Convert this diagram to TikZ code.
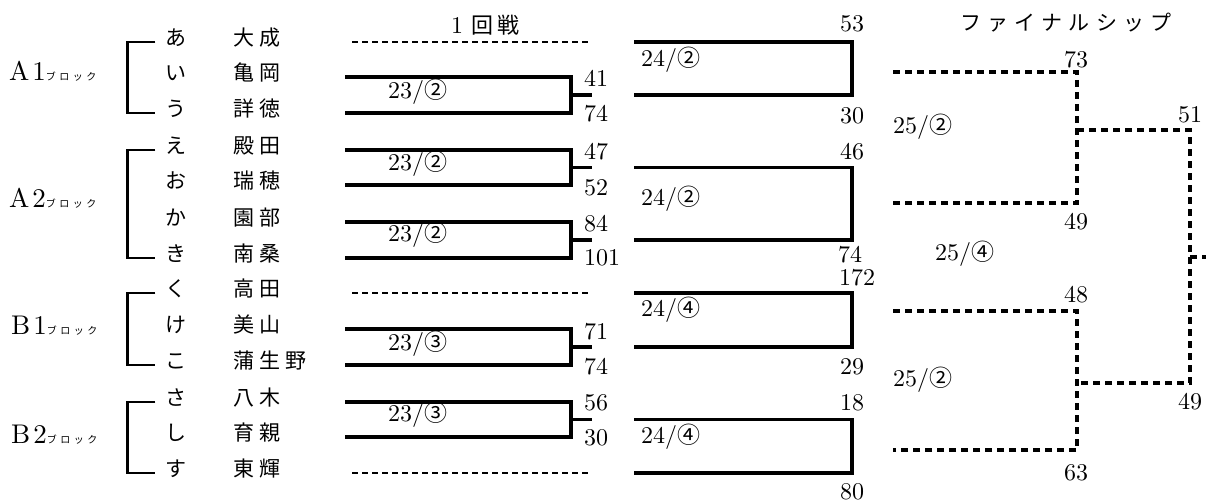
\documentclass[tikz,border=0pt]{standalone}
\usepackage{fontspec}
\usepackage{tikz}
\usetikzlibrary{positioning,calc}
\setmainfont{lmroman10-regular.otf}
\newfontfamily\jp[LetterSpace=25]{Noto Sans CJK JP}
\newfontfamily\jptitle[LetterSpace=30]{Noto Sans CJK JP}
\newfontfamily\jpsmall[LetterSpace=35]{Noto Sans CJK JP}
\newfontfamily\jpplain{Noto Sans CJK JP}
\newcommand\circnum[1]{{\jpplain\fontsize{23}{23}\selectfont #1}}

\begin{document}
\begin{tikzpicture}[x=1pt,y=-1pt,
                    every node/.style={inner sep=0pt},
                    kana/.style={font=\jpplain\fontsize{21}{21}\selectfont, minimum width=20pt,
                                 text height=0.76em, text depth=0pt},
                    team/.style={anchor=west, font=\jp\fontsize{21}{21}\selectfont,
                                 text height=0.76em, text depth=0pt},
                    blocklabel/.style={anchor=west, font=\fontsize{27}{27}\selectfont,
                                       text height=0.69em, text depth=0.05em},
                    score/.style={font=\fontsize{24}{24}\selectfont},
                    gamelabel/.style={anchor=west, font=\fontsize{24}{24}\selectfont,
                                      text height=0.69em, text depth=0.05em},
                    bracket/.style={line width=2.5pt},
                    win/.style={line width=3.5pt},
                    bye/.style={line width=1.3pt, dash pattern=on 6pt off 4pt},
                    semi/.style={line width=4pt, dash pattern=on 7pt off 5pt}]
\useasboundingbox (0,0) rectangle (1211,503);
% columns
\coordinate (c1) at (345,0);
\coordinate (c2) at (571,0);
\coordinate (c3) at (634,0);
\coordinate (c4) at (852,0);
\coordinate (b1) at (352,0);
\coordinate (b2) at (588,0);
% titles
\node[anchor=west, font=\fontsize{24}{24}\selectfont] (first) at (451,25)
  {1\hspace{8pt}{\jpplain\fontsize{22}{22}\selectfont 回\hspace{4pt}戦}};
\node[font=\jptitle\fontsize{21}{21}\selectfont] (final) at (1066,23) {ファイナルシップ};
% blocks
\node[blocklabel] (A1) at (9,77) {A\hspace{3pt}1{\jpsmall\fontsize{10}{10}\selectfont ブロック}};
\node[blocklabel] (A2) at (9,204) {A\hspace{3pt}2{\jpsmall\fontsize{10}{10}\selectfont ブロック}};
\node[blocklabel] (B1) at (11,331) {B\hspace{3pt}1{\jpsmall\fontsize{10}{10}\selectfont ブロック}};
\node[blocklabel] (B2) at (11,440) {B\hspace{3pt}2{\jpsmall\fontsize{10}{10}\selectfont ブロック}};
% teams
\node[kana] (ka1) at (176,42) {あ};
\node[kana] (ka2) at (176,77) {い};
\node[kana] (ka3) at (176,113) {う};
\node[kana] (ka4) at (176,150) {え};
\node[kana] (ka5) at (176,185) {お};
\node[kana] (ka6) at (176,222) {か};
\node[kana] (ka7) at (176,258) {き};
\node[kana] (ka8) at (176,293) {く};
\node[kana] (ka9) at (176,329) {け};
\node[kana] (ka10) at (176,365) {こ};
\node[kana] (ka11) at (176,402) {さ};
\node[kana] (ka12) at (176,437) {し};
\node[kana] (ka13) at (176,473) {す};
\node[team] (nm1) at (233,42) {大成};
\node[team] (nm2) at (233,77) {亀岡};
\node[team] (nm3) at (233,113) {詳徳};
\node[team] (nm4) at (233,150) {殿田};
\node[team] (nm5) at (233,185) {瑞穂};
\node[team] (nm6) at (233,222) {園部};
\node[team] (nm7) at (233,258) {南桑};
\node[team] (nm8) at (233,293) {高田};
\node[team] (nm9) at (233,329) {美山};
\node[team] (nm10) at (233,365) {蒲生野};
\node[team] (nm11) at (233,402) {八木};
\node[team] (nm12) at (233,437) {育親};
\node[team] (nm13) at (233,473) {東輝};
\draw[bracket] ([xshift=-10]ka1.west) -- ++(-28,0) |- ([xshift=-10]ka3.west);
\draw[bracket] ([xshift=-10]ka4.west) -- ++(-28,0) |- ([xshift=-10]ka7.west);
\draw[bracket] ([xshift=-10]ka8.west) -- ++(-28,0) |- ([xshift=-10]ka10.west);
\draw[bracket] ([xshift=-10]ka11.west) -- ++(-28,0) |- ([xshift=-10]ka13.west);
% first round
\draw[bye] (nm1 -| b1) -- (nm1 -| b2);
\draw[bye] (nm8 -| b1) -- (nm8 -| b2);
\draw[bye] (nm13 -| b1) -- (nm13 -| b2);
\draw[win] (nm2 -| c1) -| (nm3 -| c2) -- (nm3 -| c1);
\draw[win] (nm4 -| c1) -| (nm5 -| c2) -- (nm5 -| c1);
\draw[win] (nm6 -| c1) -| (nm7 -| c2) -- (nm7 -| c1);
\draw[win] (nm9 -| c1) -| (nm10 -| c2) -- (nm10 -| c1);
\draw[win] (nm11 -| c1) -| (nm12 -| c2) -- (nm12 -| c1);
\coordinate (w1) at ($(nm2 -| c2)!.5!(nm3 -| c2)$);
\coordinate (w2) at ($(nm4 -| c2)!.5!(nm5 -| c2)$);
\coordinate (w3) at ($(nm6 -| c2)!.5!(nm7 -| c2)$);
\coordinate (w4) at ($(nm9 -| c2)!.5!(nm10 -| c2)$);
\coordinate (w5) at ($(nm11 -| c2)!.5!(nm12 -| c2)$);
\draw[win] (w1) -- ++(21,0);
\draw[win] (w2) -- ++(21,0);
\draw[win] (w3) -- ++(21,0);
\draw[win] (w4) -- ++(21,0);
\draw[win] (w5) -- ++(21,0);
\node[gamelabel] (g1) at (388,95) {23/\circnum{②}};
\node[gamelabel] (g2) at (388,167) {23/\circnum{②}};
\node[gamelabel] (g3) at (388,238) {23/\circnum{②}};
\node[gamelabel] (g4) at (388,347) {23/\circnum{③}};
\node[gamelabel] (g5) at (388,418) {23/\circnum{③}};
\node[score, anchor=west] (s1a) at (584,78) {41};
\node[score, anchor=west] (s1b) at (584,114) {74};
\node[score, anchor=west] (s2a) at (584,152) {47};
\node[score, anchor=west] (s2b) at (584,188) {52};
\node[score, anchor=west] (s3a) at (584,224) {84};
\node[score, anchor=west] (s3b) at (584,258) {101};
\node[score, anchor=west] (s4a) at (584,332) {71};
\node[score, anchor=west] (s4b) at (584,367) {74};
\node[score, anchor=west] (s5a) at (584,403) {56};
\node[score, anchor=west] (s5b) at (584,438) {30};
% second round
\draw[win] (nm1 -| c3) -| (w1 -| c4) -- (w1 -| c3);
\draw[win] (w2 -| c3) -| (w3 -| c4) -- (w3 -| c3);
\draw[win] (nm8 -| c3) -| (w4 -| c4) -- (w4 -| c3);
\draw[win] (w5 -| c3) -| (nm13 -| c4) -- (nm13 -| c3);
\node[gamelabel] (h1) at (641,63) {24/\circnum{②}};
\node[gamelabel] (h2) at (641,202) {24/\circnum{②}};
\node[gamelabel] (h3) at (641,313) {24/\circnum{④}};
\node[gamelabel] (h4) at (641,440) {24/\circnum{④}};
\node[score] (t1a) at (852,24) {53};
\node[score] (t1b) at (852,116) {30};
\node[score] (t2a) at (852,152) {46};
\node[score] (t2b) at (850,255) {74};
\node[score] (t3a) at (857,278) {172};
\node[score] (t3b) at (852,367) {29};
\node[score] (t4a) at (852,403) {18};
\node[score] (t4b) at (852,492) {80};
% final ship
\coordinate (q1) at (893,72);
\coordinate (q2) at (893,203);
\coordinate (q3) at (893,311);
\coordinate (q4) at (893,450);
\coordinate (c6) at (1077,0);
\coordinate (c7) at (1190,0);
\coordinate (f1) at (1077,130);
\coordinate (f2) at (1077,383);
\coordinate (champ) at (1190,257);
\draw[semi] (q1) -| (q2 -| c6) -- (q2);
\draw[semi] (q3) -| (q4 -| c6) -- (q4);
\draw[semi] (f1) -| (f2 -| c7) -- (f2);
\draw[semi] (champ) -- ++(16,0);
\node[gamelabel] (k1) at (893,130) {25/\circnum{②}};
\node[gamelabel] (k2) at (935,257) {25/\circnum{④}};
\node[gamelabel] (k3) at (893,383) {25/\circnum{②}};
\node[score] (u1a) at (1076,60) {73};
\node[score] (u1b) at (1076,222) {49};
\node[score] (u2a) at (1076,295) {48};
\node[score] (u2b) at (1076,473) {63};
\node[score] (v1) at (1190,115) {51};
\node[score] (v2) at (1190,402) {49};
\end{tikzpicture}
\end{document}
